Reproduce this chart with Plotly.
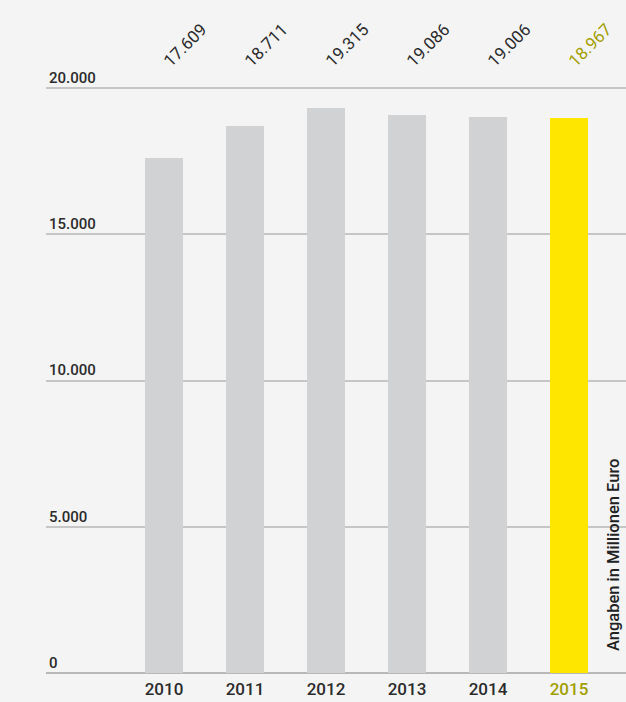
import plotly.graph_objects as go

years = ["2010", "2011", "2012", "2013", "2014", "2015"]
values = [17609, 18711, 19315, 19086, 19006, 18967]
value_labels = ["17.609", "18.711", "19.315", "19.086", "19.006", "18.967"]
y_ticks = [0, 5000, 10000, 15000, 20000]
y_tick_labels = ["0", "5.000", "10.000", "15.000", "20.000"]

GREY = "#d1d2d4"
YELLOW = "#ffe600"
OLIVE = "#a39e00"
TEXT = "#2b2b2b"
FONT = "Roboto"

x_pos = list(range(len(years)))
colors = [GREY] * (len(years) - 1) + [YELLOW]
label_colors = [TEXT] * (len(years) - 1) + [OLIVE]

fig = go.Figure()
fig.add_trace(go.Bar(
    x=x_pos, y=values, marker=dict(color=colors, line=dict(width=0)),
    width=0.47, hoverinfo="skip",
))

annotations = []
for i, (lab, c) in enumerate(zip(value_labels, label_colors)):
    annotations.append(dict(
        x=i, y=1.036, xref="x", yref="paper", text=lab, showarrow=False,
        textangle=-45, xshift=21, font=dict(family=FONT, size=17, color=c),
        xanchor="center", yanchor="middle",
    ))
annotations.append(dict(
    x=0.9776, y=0.1947, xref="paper", yref="paper",
    text="Angaben in Millionen Euro", showarrow=False, textangle=-90,
    font=dict(family=FONT, size=16.5, color="#222222", weight=500),
    xanchor="center", yanchor="middle",
))

ticktext = [y if i < len(years) - 1 else f'<span style="color:{OLIVE}">{y}</span>'
            for i, y in enumerate(years)]

fig.update_layout(
    width=626, height=702,
    margin=dict(l=46, r=0, t=67, b=29, pad=0),
    paper_bgcolor="#f4f4f4", plot_bgcolor="#f4f4f4",
    showlegend=False, bargap=0,
    font=dict(family=FONT, color=TEXT),
    annotations=annotations,
    xaxis=dict(
        range=[-1.457, 5.704], tickvals=x_pos, ticktext=ticktext,
        showgrid=False, zeroline=False, showline=False, ticks="",
        ticklabelstandoff=4,
        tickfont=dict(family=FONT, size=17, color=TEXT, weight=500),
    ),
    yaxis=dict(
        range=[0, 20718], tickvals=y_ticks, ticktext=y_tick_labels,
        showgrid=True, gridcolor="#c6c6c6", gridwidth=1.5,
        zeroline=True, zerolinecolor="#b8b8b8", zerolinewidth=1.5,
        showline=False, ticks="", ticklabelposition="inside top",
        tickfont=dict(family=FONT, size=15, color=TEXT, weight=500),
    ),
)

fig.write_html("out.html", config={"displayModeBar": False},
               post_script="document.body.style.margin='0';")
